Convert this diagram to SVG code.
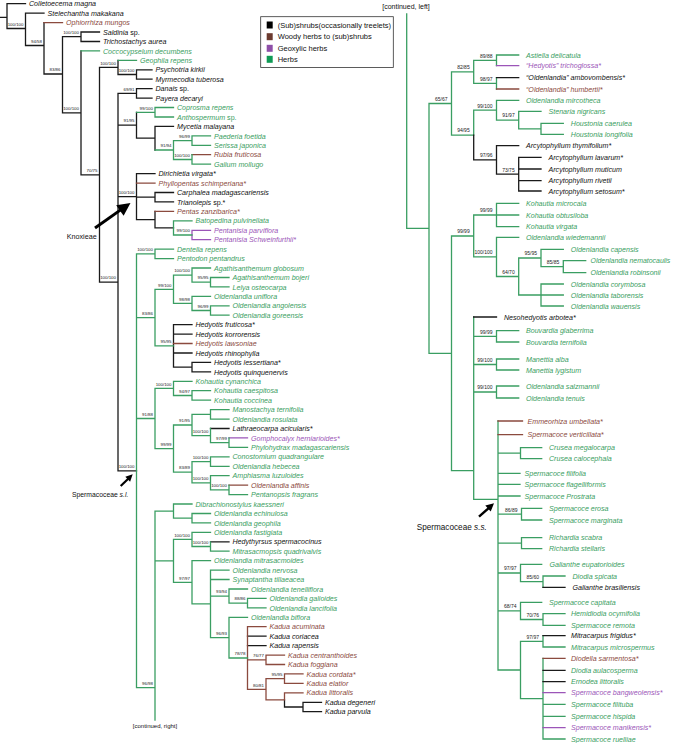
<svg xmlns="http://www.w3.org/2000/svg" width="673" height="743" viewBox="0 0 673 743">
<style>
path{fill:none;stroke-width:1.3;stroke-linecap:square}
.k{stroke:#1a1a1a}.g{stroke:#3a9e62}.b{stroke:#8b4a3e}.p{stroke:#9b55b8}
text{font-family:"Liberation Sans",Arial,Helvetica,sans-serif}
.t{font-size:7.1px;font-style:italic}
.tk{fill:#111}.tg{fill:#3a9e62}.tb{fill:#8b4a3e}.tp{fill:#9b55b8}
.n{font-style:normal}
.bl{font-size:4.4px;fill:#222;text-anchor:end}
.br{font-size:5px;fill:#222;text-anchor:end}
.lg{font-size:7.5px;fill:#111}
.cl{font-size:7.2px;fill:#111}
.arr{fill:#000;stroke:none}
.sh{stroke:#000;stroke-linecap:butt}
</style>
<g id="connectors">
<path class="k" d="M0 17.3H7 M7 3.7V28.5 M7 3.7H25.5 M7 28.5H25.5 M25.5 13.1V45.5 M25.5 13.1H44 M25.5 45.5H44 M44 22.6V74 M44 74H62.5 M62.5 36.7V112.8 M62.5 36.7H81 M81 32V41.5 M81 32H99.5 M81 41.5H99.5 M62.5 112.8H81 M81 50.9V174.8 M81 174.8H99.5 M99.5 67.4V282.1 M99.5 67.4H118 M118 60.3V74.5 M118 74.5H136.5 M136.5 69.8V79.2 M136.5 69.8H152 M136.5 79.2H152 M99.5 282.1H118 M118 93.4V470.8 M118 93.4H136.5 M136.5 88.7V98.1 M136.5 88.7H152 M136.5 98.1H152 M118 125.2H136.5 M136.5 112.3V138.2 M136.5 138.2H155 M155 126.4V150 M155 126.4H173.5 M118 196.6H136.5 M136.5 173.6V219.7 M136.5 173.6H155 M136.5 197.2H155 M155 192.5V201.9 M155 192.5H173.5 M155 201.9H173.5 M136.5 219.7H155 M155 211.4V227.9 M155 227.9H173.5 M118 470.8H136.5 M173.5 324.7V367.2 M173.5 324.7H192 M173.5 334.1H192 M173.5 353H192 M173.5 367.2H192 M192 362.4V371.9 M192 362.4H210.5 M192 371.9H210.5 M210.5 428.5H229 M210.5 541.8H229 M247.5 636.2H266 M247.5 645.6H266 M284.5 699.9V707 M284.5 707H303 M303 702.3V711.7 M303 702.3H321.5 M303 711.7H321.5"/>
<path class="b" d="M44 22.6H62.5 M192 154.7H210.5 M136.5 183.1H155 M155 211.4H173.5 M173.5 343.5H192 M229 485.1H247.5 M247.5 626.7V689.3 M247.5 626.7H266 M247.5 659.8H266 M266 655.1V664.5 M266 655.1H284.5 M266 664.5H284.5 M247.5 689.3H266 M266 678.7V699.9 M266 678.7H284.5 M284.5 673.9V683.4 M284.5 673.9H303 M284.5 683.4H303 M266 699.9H284.5 M284.5 692.8V699.9 M284.5 692.8H303"/>
<path class="p" d="M192 230.3V239.7 M192 230.3H210.5 M192 239.7H210.5 M229 437.9H247.5"/>
<path class="g" d="M81 50.9H99.5 M118 60.3H136.5 M136.5 112.3H155 M155 107.5V117 M155 107.5H173.5 M155 117H173.5 M155 150H173.5 M173.5 140.6V159.5 M173.5 140.6H192 M192 135.9V145.3 M192 135.9H210.5 M192 145.3H210.5 M173.5 159.5H192 M192 154.7V164.2 M192 164.2H210.5 M173.5 220.8V235 M173.5 220.8H192 M173.5 235H192 M136.5 253.9V687.7 M136.5 253.9H155 M155 249.1V258.6 M155 249.1H173.5 M155 258.6H173.5 M136.5 317.6H155 M155 289.3V345.9 M155 289.3H173.5 M173.5 275.1V303.4 M173.5 275.1H192 M192 268V282.2 M192 268H210.5 M192 282.2H210.5 M210.5 277.5V286.9 M210.5 277.5H229 M210.5 286.9H229 M173.5 303.4H192 M192 296.3V310.5 M192 296.3H210.5 M192 310.5H210.5 M210.5 305.8V315.2 M210.5 305.8H229 M210.5 315.2H229 M155 345.9H173.5 M136.5 418.5H155 M155 388.4V448.6 M155 388.4H173.5 M173.5 381.3V395.5 M173.5 381.3H192 M173.5 395.5H192 M192 390.7V400.2 M192 390.7H210.5 M192 400.2H210.5 M155 448.6H173.5 M173.5 425V472.2 M173.5 425H192 M192 414.4V435.6 M192 414.4H210.5 M210.5 409.6V419.1 M210.5 409.6H229 M210.5 419.1H229 M192 435.6H210.5 M210.5 428.5V442.7 M210.5 442.7H229 M229 437.9V447.4 M229 447.4H247.5 M173.5 472.2H192 M192 461.6V482.8 M192 461.6H210.5 M210.5 456.8V466.3 M210.5 456.8H229 M210.5 466.3H229 M192 482.8H210.5 M210.5 475.7V489.9 M210.5 475.7H229 M210.5 489.9H229 M229 485.1V494.6 M229 494.6H247.5 M136.5 687.7H155 M155 511.1V720 M155 511.1H173.5 M173.5 504V518.2 M173.5 504H192 M173.5 518.2H192 M192 513.5V522.9 M192 513.5H210.5 M192 522.9H210.5 M155 560.9H173.5 M173.5 539.4V582.3 M173.5 539.4H192 M192 532.3V546.5 M192 532.3H210.5 M192 546.5H210.5 M210.5 541.8V551.2 M210.5 551.2H229 M173.5 582.3H192 M192 560.7V603.9 M192 560.7H210.5 M192 603.9H210.5 M210.5 570.1V637.7 M210.5 570.1H229 M210.5 579.5H229 M210.5 596.1H229 M229 589V603.2 M229 589H247.5 M229 603.2H247.5 M247.5 598.4V607.9 M247.5 598.4H266 M247.5 607.9H266 M210.5 637.7H229 M229 617.3V658 M229 617.3H247.5 M229 658H247.5"/>
<path class="g" d="M406.7 14V228.4H429 M429 103.5V353.3 M429 103.5H451.5 M451.5 71.9V135.1 M451.5 71.9H473.7 M473.7 60.4V83.4 M473.7 60.4H496.5 M496.5 55V65.7 M496.5 55H518.7 M473.7 83.4H496.5 M496.5 77.7V89 M451.5 135.1H473.7 M473.7 110.2V135.1 M473.7 110.2H496.5 M496.5 100.3V120.1 M496.5 100.3H518.7 M496.5 120.1H518.7 M518.7 111.3V128.8 M518.7 111.3H541 M518.7 128.8H541 M541 123.3V134.3 M541 123.3H563.3 M541 134.3H563.3 M429 353.3H451.5 M451.5 236V470.7 M451.5 236H473.7 M473.7 215V256.9 M473.7 215H496.5 M496.5 203.3V226.7 M496.5 203.3H518.7 M496.5 215H518.7 M496.5 226.7H518.7 M473.7 256.9H496.5 M496.5 237.3V276.5 M496.5 237.3H518.7 M496.5 276.5H518.7 M518.7 258V295 M518.7 258H541 M541 249.3V266.7 M541 249.3H563.3 M541 266.7H563.3 M563.3 260.7V272.7 M563.3 260.7H585.7 M563.3 272.7H585.7 M518.7 295H541 M541 284V306 M541 284H563.3 M541 295H563.3 M541 306H563.3 M451.5 470.7H473.7 M473.7 317V499.3 M473.7 336.4H496.5 M496.5 330.7V342 M496.5 330.7H518.7 M496.5 342H518.7 M473.7 364.5H496.5 M496.5 359V370 M496.5 359H518.7 M496.5 370H518.7 M473.7 392H496.5 M496.5 386V398 M496.5 386H518.7 M496.5 398H518.7 M473.7 499.3H498 M498 421V670 M498 453.2H520.5 M520.5 447.7V458.7 M520.5 447.7H541.7 M520.5 458.7H541.7 M498 473.3H520 M498 484.3H520 M498 496H520 M498 514.2H521.5 M521.5 508.3V520 M521.5 508.3H541.7 M521.5 520H541.7 M498 543.2H521.5 M521.5 537.7V548.7 M521.5 537.7H541.7 M521.5 548.7H541.7 M498 573H520.5 M520.5 564.3V581.7 M520.5 564.3H541.7 M520.5 581.7H543 M543 576V587.3 M543 576H565 M498 610.9H520.5 M520.5 602.3V619.5 M520.5 602.3H541.7 M520.5 619.5H543 M543 613.7V625.3 M543 613.7H565 M543 625.3H565 M498 670H520.5 M520.5 641.4V698.7 M520.5 641.4H543 M543 635.7V647 M543 647H565 M520.5 698.7H543 M543 658.3V739 M543 704.3H565 M543 716.3H565 M543 739H565"/>
<path class="k" d="M496.5 77.7H518.7 M473.7 135.1V159.9 M473.7 159.9H496.5 M496.5 145.7V174.2 M496.5 145.7H518.7 M496.5 174.2H518.7 M518.7 157.3V191 M518.7 157.3H541 M518.7 169H541 M518.7 180.7H541 M518.7 191H541 M473.7 317H496.5 M543 587.3H565 M543 635.7H565 M543 670.3H565 M543 681.7H565"/>
<path class="b" d="M496.5 89H518.7 M498 421H522.5 M498 434.7H522.5 M543 658.3H565"/>
<path class="p" d="M496.5 65.7H518.7 M543 692.7H565 M543 727.7H565"/>
</g>
<g id="support-left">
<text class="bl" x="23.5" y="25.7">100/100</text>
<text class="bl" x="42" y="42.7">94/58</text>
<text class="bl" x="60.5" y="71.2">83/86</text>
<text class="bl" x="79" y="33.9">100/100</text>
<text class="bl" x="79" y="110">100/100</text>
<text class="bl" x="97.5" y="172">70/75</text>
<text class="bl" x="116" y="64.6">100/100</text>
<text class="bl" x="134.5" y="71.7">100/100</text>
<text class="bl" x="116" y="279.3">100/100</text>
<text class="bl" x="134.5" y="90.6">69/91</text>
<text class="bl" x="134.5" y="122.4">91/95</text>
<text class="bl" x="134.5" y="193.8">100/100</text>
<text class="bl" x="134.5" y="468">100/100</text>
<text class="bl" x="153" y="109.5">99/100</text>
<text class="bl" x="171.5" y="147.2">91/94</text>
<text class="bl" x="190" y="137.8">96/99</text>
<text class="bl" x="190" y="156.7">100/100</text>
<text class="bl" x="190" y="232.2">99/100</text>
<text class="bl" x="153" y="251.1">100/100</text>
<text class="bl" x="153" y="314.8">83/86</text>
<text class="bl" x="171.5" y="286.5">99/100</text>
<text class="bl" x="190" y="272.3">100/100</text>
<text class="bl" x="208.5" y="279.4">95/95</text>
<text class="bl" x="190" y="300.6">98/98</text>
<text class="bl" x="208.5" y="307.7">96/99</text>
<text class="bl" x="171.5" y="343.1">95/95</text>
<text class="bl" x="153" y="415.7">91/88</text>
<text class="bl" x="171.5" y="385.6">100/100</text>
<text class="bl" x="190" y="392.7">94/97</text>
<text class="bl" x="171.5" y="445.8">99/99</text>
<text class="bl" x="190" y="422.2">91/95</text>
<text class="bl" x="208.5" y="432.8">100/100</text>
<text class="bl" x="227" y="439.9">97/99</text>
<text class="bl" x="190" y="469.4">83/89</text>
<text class="bl" x="208.5" y="458.8">100/100</text>
<text class="bl" x="208.5" y="480">100/100</text>
<text class="bl" x="227" y="487.1">100/100</text>
<text class="bl" x="153" y="684.9">96/98</text>
<text class="bl" x="190" y="536.6">100/100</text>
<text class="bl" x="208.5" y="543.7">100/100</text>
<text class="bl" x="190" y="579.5">97/97</text>
<text class="bl" x="227" y="593.3">93/94</text>
<text class="bl" x="245.5" y="600.4">88/86</text>
<text class="bl" x="227" y="634.9">96/93</text>
<text class="bl" x="245.5" y="655.2">78/78</text>
<text class="bl" x="264" y="657">76/77</text>
<text class="bl" x="264" y="686.5">80/81</text>
<text class="bl" x="282.5" y="675.9">95/95</text>
</g>
<g id="support-right">
<text class="br" x="447.5" y="100.8">65/67</text>
<text class="br" x="469.7" y="69.2">82/85</text>
<text class="br" x="492.5" y="57.7">89/88</text>
<text class="br" x="492.5" y="80.7">98/97</text>
<text class="br" x="469.7" y="132.4">94/95</text>
<text class="br" x="492.5" y="107.5">99/100</text>
<text class="br" x="514.7" y="117.4">91/97</text>
<text class="br" x="492.5" y="157.2">97/96</text>
<text class="br" x="514.7" y="171.5">73/75</text>
<text class="br" x="469.7" y="233.3">99/99</text>
<text class="br" x="492.5" y="212.3">99/99</text>
<text class="br" x="492.5" y="254.2">100/100</text>
<text class="br" x="537" y="255.3">95/95</text>
<text class="br" x="559.3" y="264">85/85</text>
<text class="br" x="514.7" y="273.8">64/70</text>
<text class="br" x="492.5" y="333.7">99/99</text>
<text class="br" x="492.5" y="361.8">99/100</text>
<text class="br" x="492.5" y="389.3">99/100</text>
<text class="br" x="517.5" y="511.5">86/89</text>
<text class="br" x="516.5" y="570.3">97/97</text>
<text class="br" x="539" y="579">85/60</text>
<text class="br" x="516.5" y="608.2">68/74</text>
<text class="br" x="539" y="616.8">70/76</text>
<text class="br" x="539" y="638.7">97/97</text>
</g>
<g id="tips-left">
<g id="L0"><text class="t tk" x="29" y="6.3">Colletoecema magna</text></g>
<g id="L1"><text class="t tk" x="47.5" y="15.7">Stelechantha makakana</text></g>
<g id="L2"><text class="t tb" x="66" y="25.2">Ophiorrhiza mungos</text></g>
<g id="L3"><text class="t tk" x="103" y="34.6">Saldinia<tspan class="n"> sp.</tspan></text></g>
<g id="L4"><text class="t tk" x="103" y="44.1">Trichostachys aurea</text></g>
<g id="L5"><text class="t tg" x="103" y="53.5">Coccocypselum decumbens</text></g>
<g id="L6"><text class="t tg" x="140" y="62.9">Geophila repens</text></g>
<g id="L7"><text class="t tk" x="155.5" y="72.4">Psychotria kirkii</text></g>
<g id="L8"><text class="t tk" x="155.5" y="81.8">Myrmecodia tuberosa</text></g>
<g id="L9"><text class="t tk" x="155.5" y="91.3">Danais<tspan class="n"> sp.</tspan></text></g>
<g id="L10"><text class="t tk" x="155.5" y="100.7">Payera decaryi</text></g>
<g id="L11"><text class="t tg" x="177" y="110.1">Coprosma repens</text></g>
<g id="L12"><text class="t tg" x="177" y="119.6">Anthospermum<tspan class="n"> sp.</tspan></text></g>
<g id="L13"><text class="t tk" x="177" y="129">Mycetia malayana</text></g>
<g id="L14"><text class="t tg" x="214" y="138.5">Paederia foetida</text></g>
<g id="L15"><text class="t tg" x="214" y="147.9">Serissa japonica</text></g>
<g id="L16"><text class="t tb" x="214" y="157.3">Rubia fruticosa</text></g>
<g id="L17"><text class="t tg" x="214" y="166.8">Galium mollugo</text></g>
<g id="L18"><text class="t tk" x="158.5" y="176.2">Dirichletia virgata*</text></g>
<g id="L19"><text class="t tb" x="158.5" y="185.7">Phyllopentas schimperiana*</text></g>
<g id="L20"><text class="t tk" x="177" y="195.1">Carphalea madagascariensis</text></g>
<g id="L21"><text class="t tk" x="177" y="204.5">Trianolepis<tspan class="n"> sp.*</tspan></text></g>
<g id="L22"><text class="t tb" x="177" y="214">Pentas zanzibarica*</text></g>
<g id="L23"><text class="t tg" x="195.5" y="223.4">Batopedina pulvinellata</text></g>
<g id="L24"><text class="t tp" x="214" y="232.9">Pentanisia parviflora</text></g>
<g id="L25"><text class="t tp" x="214" y="242.3">Pentanisia Schweinfurthii*</text></g>
<g id="L26"><text class="t tg" x="177" y="251.7">Dentella repens</text></g>
<g id="L27"><text class="t tg" x="177" y="261.2">Pentodon pentandrus</text></g>
<g id="L28"><text class="t tg" x="214" y="270.6">Agathisanthemum globosum</text></g>
<g id="L29"><text class="t tg" x="232.5" y="280.1">Agathisanthemum bojeri</text></g>
<g id="L30"><text class="t tg" x="232.5" y="289.5">Lelya osteocarpa</text></g>
<g id="L31"><text class="t tg" x="214" y="298.9">Oldenlandia uniflora</text></g>
<g id="L32"><text class="t tg" x="232.5" y="308.4">Oldenlandia angolensis</text></g>
<g id="L33"><text class="t tg" x="232.5" y="317.8">Oldenlandia goreensis</text></g>
<g id="L34"><text class="t tk" x="195.5" y="327.3">Hedyotis fruticosa*</text></g>
<g id="L35"><text class="t tk" x="195.5" y="336.7">Hedyotis korrorensis</text></g>
<g id="L36"><text class="t tb" x="195.5" y="346.1">Hedyotis lawsoniae</text></g>
<g id="L37"><text class="t tk" x="195.5" y="355.6">Hedyotis rhinophylla</text></g>
<g id="L38"><text class="t tk" x="214" y="365">Hedyotis lessertiana*</text></g>
<g id="L39"><text class="t tk" x="214" y="374.5">Hedyotis quinquenervis</text></g>
<g id="L40"><text class="t tg" x="195.5" y="383.9">Kohautia cynanchica</text></g>
<g id="L41"><text class="t tg" x="214" y="393.3">Kohautia caespitosa</text></g>
<g id="L42"><text class="t tg" x="214" y="402.8">Kohautia coccinea</text></g>
<g id="L43"><text class="t tg" x="232.5" y="412.2">Manostachya ternifolia</text></g>
<g id="L44"><text class="t tg" x="232.5" y="421.7">Oldenlandia rosulata</text></g>
<g id="L45"><text class="t tk" x="232.5" y="431.1">Lathraeocarpa acicularis*</text></g>
<g id="L46"><text class="t tp" x="251" y="440.5">Gomphocalyx herniarioides*</text></g>
<g id="L47"><text class="t tg" x="251" y="450">Phylohydrax madagascariensis</text></g>
<g id="L48"><text class="t tg" x="232.5" y="459.4">Conostomium quadrangulare</text></g>
<g id="L49"><text class="t tg" x="232.5" y="468.9">Oldenlandia hebecea</text></g>
<g id="L50"><text class="t tg" x="232.5" y="478.3">Amphiasma luzuloides</text></g>
<g id="L51"><text class="t tb" x="251" y="487.7">Oldenlandia affinis</text></g>
<g id="L52"><text class="t tg" x="251" y="497.2">Pentanopsis fragrans</text></g>
<g id="L53"><text class="t tg" x="195.5" y="506.6">Dibrachionostylus kaessneri</text></g>
<g id="L54"><text class="t tg" x="214" y="516.1">Oldenlandia echinulosa</text></g>
<g id="L55"><text class="t tg" x="214" y="525.5">Oldenlandia geophila</text></g>
<g id="L56"><text class="t tg" x="214" y="534.9">Oldenlandia fastigiata</text></g>
<g id="L57"><text class="t tk" x="232.5" y="544.4">Hedythyrsus spermacocinus</text></g>
<g id="L58"><text class="t tg" x="232.5" y="553.8">Mitrasacmopsis quadrivalvis</text></g>
<g id="L59"><text class="t tg" x="214" y="563.3">Oldenlandia mitrasacmoides</text></g>
<g id="L60"><text class="t tg" x="232.5" y="572.7">Oldenlandia nervosa</text></g>
<g id="L61"><text class="t tg" x="232.5" y="582.1">Synaptantha tillaeacea</text></g>
<g id="L62"><text class="t tg" x="251" y="591.6">Oldenlandia tenelliflora</text></g>
<g id="L63"><text class="t tg" x="269.5" y="601">Oldenlandia galioides</text></g>
<g id="L64"><text class="t tg" x="269.5" y="610.5">Oldenlandia lancifolia</text></g>
<g id="L65"><text class="t tg" x="251" y="619.9">Oldenlandia biflora</text></g>
<g id="L66"><text class="t tb" x="269.5" y="629.3">Kadua acuminata</text></g>
<g id="L67"><text class="t tk" x="269.5" y="638.8">Kadua coriacea</text></g>
<g id="L68"><text class="t tk" x="269.5" y="648.2">Kadua rapensis</text></g>
<g id="L69"><text class="t tb" x="288" y="657.7">Kadua centranthoides</text></g>
<g id="L70"><text class="t tb" x="288" y="667.1">Kadua foggiana</text></g>
<g id="L71"><text class="t tb" x="306.5" y="676.5">Kadua cordata*</text></g>
<g id="L72"><text class="t tb" x="306.5" y="686">Kadua elatior</text></g>
<g id="L73"><text class="t tb" x="306.5" y="695.4">Kadua littoralis</text></g>
<g id="L74"><text class="t tk" x="325" y="704.9">Kadua degeneri</text></g>
<g id="L75"><text class="t tk" x="325" y="714.3">Kadua parvula</text></g>
</g>
<g id="tips-right">
<g id="R0"><text class="t tg" x="526" y="57.6">Astiella delicatula</text></g>
<g id="R1"><text class="t tp" x="526" y="68.3">“Hedyotis” trichoglossa*</text></g>
<g id="R2"><text class="t tk" x="526" y="80.3">“Oldenlandia” ambovombensis*</text></g>
<g id="R3"><text class="t tb" x="526" y="91.6">“Oldenlandia” humbertii*</text></g>
<g id="R4"><text class="t tg" x="526" y="102.9">Oldenlandia mircotheca</text></g>
<g id="R5"><text class="t tg" x="548.5" y="113.9">Stenaria nigricans</text></g>
<g id="R6"><text class="t tg" x="570.8" y="125.9">Houstonia caerulea</text></g>
<g id="R7"><text class="t tg" x="570.8" y="136.9">Houstonia longifolia</text></g>
<g id="R8"><text class="t tk" x="526" y="148.3">Arcytophyllum thymifolium*</text></g>
<g id="R9"><text class="t tk" x="548.5" y="159.9">Arcytophyllum lavarum*</text></g>
<g id="R10"><text class="t tk" x="548.5" y="171.6">Arcytophyllum muticum</text></g>
<g id="R11"><text class="t tk" x="548.5" y="183.3">Arcytophyllum rivetii</text></g>
<g id="R12"><text class="t tk" x="548.5" y="193.6">Arcytophyllum setosum*</text></g>
<g id="R13"><text class="t tg" x="526" y="205.9">Kohautia microcala</text></g>
<g id="R14"><text class="t tg" x="526" y="217.6">Kohautia obtusiloba</text></g>
<g id="R15"><text class="t tg" x="526" y="229.3">Kohautia virgata</text></g>
<g id="R16"><text class="t tg" x="526" y="239.9">Oldenlandia wiedemannii</text></g>
<g id="R17"><text class="t tg" x="570.8" y="251.9">Oldenlandia capensis</text></g>
<g id="R18"><text class="t tg" x="590.5" y="263.3" style="font-size:6.95px">Oldenlandia nematocaulis</text></g>
<g id="R19"><text class="t tg" x="590.5" y="275.3">Oldenlandia robinsonii</text></g>
<g id="R20"><text class="t tg" x="570.8" y="286.6">Oldenlandia corymbosa</text></g>
<g id="R21"><text class="t tg" x="570.8" y="297.6">Oldenlandia taborensis</text></g>
<g id="R22"><text class="t tg" x="570.8" y="308.6">Oldenlandia wauensis</text></g>
<g id="R23"><text class="t tk" x="504" y="319.6">Nesohedyotis arbotea*</text></g>
<g id="R24"><text class="t tg" x="526" y="333.3">Bouvardia glaberrima</text></g>
<g id="R25"><text class="t tg" x="526" y="344.6">Bouvardia ternifolia</text></g>
<g id="R26"><text class="t tg" x="526" y="361.6">Manettia alba</text></g>
<g id="R27"><text class="t tg" x="526" y="372.6">Manettia lygistum</text></g>
<g id="R28"><text class="t tg" x="526" y="388.6">Oldenlandia salzmannii</text></g>
<g id="R29"><text class="t tg" x="526" y="400.6">Oldenlandia tenuis</text></g>
<g id="R30"><text class="t tb" x="527.5" y="423.6">Emmeorhiza umbellata*</text></g>
<g id="R31"><text class="t tb" x="527.5" y="437.3">Spermacoce verticillata*</text></g>
<g id="R32"><text class="t tg" x="549" y="450.3">Crusea megalocarpa</text></g>
<g id="R33"><text class="t tg" x="549" y="461.3">Crusea calocephala</text></g>
<g id="R34"><text class="t tg" x="524.5" y="475.9">Spermacoce filifolia</text></g>
<g id="R35"><text class="t tg" x="524.5" y="486.9">Spermacoce flagelliformis</text></g>
<g id="R36"><text class="t tg" x="524.5" y="498.6">Spermacoce Prostrata</text></g>
<g id="R37"><text class="t tg" x="549" y="510.9">Spermacoce erosa</text></g>
<g id="R38"><text class="t tg" x="549" y="522.6">Spermacoce marginata</text></g>
<g id="R39"><text class="t tg" x="549" y="540.3">Richardia scabra</text></g>
<g id="R40"><text class="t tg" x="549" y="551.3">Richardia stellaris</text></g>
<g id="R41"><text class="t tg" x="549.5" y="566.9">Galianthe eupatorioides</text></g>
<g id="R42"><text class="t tg" x="572.5" y="578.6">Diodia spicata</text></g>
<g id="R43"><text class="t tk" x="572.5" y="589.9">Galianthe brasiliensis</text></g>
<g id="R44"><text class="t tg" x="549" y="604.9">Spermacoce capitata</text></g>
<g id="R45"><text class="t tg" x="571" y="616.3">Hemidiodia ocymifolia</text></g>
<g id="R46"><text class="t tg" x="571" y="627.9">Spermacoce remota</text></g>
<g id="R47"><text class="t tk" x="571" y="638.3">Mitracarpus frigidus*</text></g>
<g id="R48"><text class="t tg" x="571" y="649.6">Mitracarpus microspermus</text></g>
<g id="R49"><text class="t tb" x="571" y="660.9">Diodella sarmentosa*</text></g>
<g id="R50"><text class="t tg" x="571" y="672.9">Diodia aulacosperma</text></g>
<g id="R51"><text class="t tg" x="571" y="684.3">Ernodea littoralis</text></g>
<g id="R52"><text class="t tp" x="571" y="695.3">Spermacoce bangweolensis*</text></g>
<g id="R53"><text class="t tg" x="571" y="706.9">Spermacoce filituba</text></g>
<g id="R54"><text class="t tg" x="571" y="718.9">Spermacoce hispida</text></g>
<g id="R55"><text class="t tp" x="571" y="730.3">Spermacoce manikensis*</text></g>
<g id="R56"><text class="t tg" x="571" y="741.6">Spermacoce ruelliae</text></g>
</g>
<g id="legend">
<rect x="260.7" y="16.7" width="132.6" height="50.8" fill="#fff" stroke="#333" stroke-width="0.8"/>
<rect x="266.7" y="21.5" width="6" height="7" fill="#000"/>
<rect x="266.7" y="33.2" width="6" height="7" fill="#6b3a2f"/>
<rect x="266.7" y="44.8" width="6" height="7" fill="#8e4fa8"/>
<rect x="266.7" y="55.8" width="6" height="7" fill="#0f9a55"/>
<text class="lg" x="277.7" y="27.7">(Sub)shrubs(occasionally treelets)</text>
<text class="lg" x="277.7" y="39.4">Woody herbs to (sub)shrubs</text>
<text class="lg" x="277.7" y="51">Geoxylic herbs</text>
<text class="lg" x="277.7" y="62">Herbs</text>
</g>
<g id="clade-labels">
<g id="knoxieae">
<line class="sh" x1="95" y1="228" x2="121" y2="209.6" stroke-width="3"/>
<polygon class="arr" points="130.5,203 123.6,215.8 116.2,205.2"/>
<text class="cl" x="66.7" y="239.3">Knoxieae</text>
</g>
<g id="spermacoceae-sl">
<line class="sh" x1="120.7" y1="486" x2="128.5" y2="478.5" stroke-width="2.2"/>
<polygon class="arr" points="132.7,474.3 130.1,481.7 125.3,476.7"/>
<text class="cl" x="72" y="496.5" style="font-size:6.8px">Spermacoceae <tspan font-style="italic">s.l.</tspan></text>
</g>
<g id="spermacoceae-ss">
<line class="sh" x1="479" y1="516.7" x2="489" y2="507.8" stroke-width="2.4"/>
<polygon class="arr" points="494,503.3 490.7,511.6 485.3,505.6"/>
<text class="cl" x="416.7" y="529.6" style="font-size:8.2px">Spermacoceae <tspan font-style="italic">s.s.</tspan></text>
</g>
<text class="cl" x="155" y="728" text-anchor="middle" style="font-size:6px">[continued, right]</text>
<text class="cl" x="406" y="9" text-anchor="middle" style="font-size:7px">[continued, left]</text>
</g>
</svg>
